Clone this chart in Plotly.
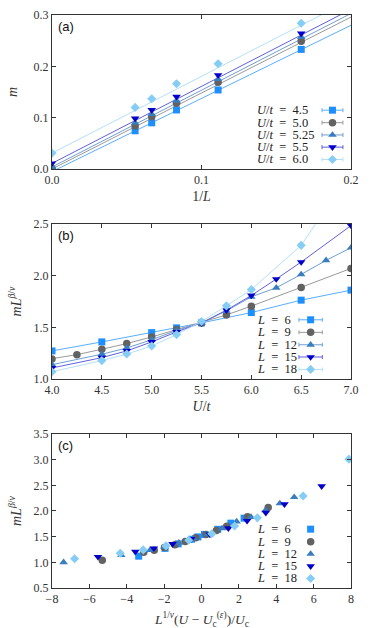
import plotly.graph_objects as go

# ---------------- data ----------------
# (a) magnetization vs 1/L, first point is the 1/L -> 0 extrapolation
inv_L = [0.0, 0.0556, 0.0667, 0.0833, 0.1111, 0.1667]
m_u45 = [-0.004, 0.0745, 0.090, 0.115, 0.154, 0.233]
m_u50 = [0.001, 0.084, 0.102, 0.128, 0.169, 0.249]
m_u525 = [0.004, 0.090, 0.107, 0.133, 0.175, 0.257]
m_u55 = [0.011, 0.0985, 0.115, 0.141, 0.183, 0.264]
m_u60 = [0.031, 0.120, 0.137, 0.166, 0.205, 0.284]

# fit lines, evaluated at the ends of the axis
fit_x = [0.0, 0.2]
fit_u45 = [-0.005, 0.280]
fit_u50 = [0.0, 0.296]
fit_u525 = [0.004, 0.303]
fit_u55 = [0.011, 0.311]
fit_u60 = [0.031, 0.330]

# (b) m L^{beta/nu} vs U/t
U_L6 = [3.0, 4.0, 4.5, 5.0, 5.25, 5.5, 6.0, 6.5, 7.0]
y_L6 = [1.12, 1.272, 1.359, 1.449, 1.495, 1.543, 1.643, 1.763, 1.86]
U_L9 = [3.0, 4.0, 4.25, 4.5, 4.75, 5.0, 5.25, 5.5, 5.75, 6.0, 6.5, 7.0]
y_L9 = [1.04, 1.194, 1.236, 1.288, 1.343, 1.407, 1.478, 1.543, 1.62, 1.705, 1.886, 2.07]
U_L12 = [3.0, 4.0, 4.5, 4.75, 5.0, 5.25, 5.5, 5.75, 6.0, 6.25, 6.5, 6.75, 7.0]
y_L12 = [1.00, 1.139, 1.24, 1.30, 1.38, 1.47, 1.543, 1.66, 1.795, 1.883, 2.012, 2.148, 2.27]
U_L15 = [4.0, 4.5, 4.75, 5.0, 5.25, 5.5, 5.75, 6.0, 6.25, 6.5, 7.0]
y_L15 = [1.107, 1.207, 1.272, 1.359, 1.456, 1.543, 1.666, 1.808, 1.967, 2.132, 2.484]
U_L18 = [4.0, 4.5, 4.75, 5.0, 5.25, 5.5, 5.75, 6.0, 6.5, 7.0]
y_L18 = [1.071, 1.178, 1.242, 1.32, 1.43, 1.556, 1.708, 1.866, 2.293, 3.01]

# (c) data collapse, scaling variable
s_L6 = [-3.36, -1.95, -1.25, -0.54, -0.19, 0.16, 0.87, 1.57, 2.28]
s_L9 = [-5.31, -3.09, -2.53, -1.98, -1.42, -0.87, -0.31, 0.24, 0.80, 1.35, 2.46, 3.57]
s_L12 = [-7.38, -4.29, -2.75, -1.98, -1.21, -0.44, 0.33, 1.10, 1.88, 2.65, 3.42, 4.19, 4.96]
s_L15 = [-5.54, -3.54, -2.55, -1.55, -0.55, 0.45, 1.44, 2.44, 3.44, 4.44, 6.43]
s_L18 = [-6.79, -4.35, -3.12, -1.90, -0.68, 0.55, 1.77, 2.99, 5.44, 7.89]

u_labels = ['4.5', '5.0', '5.25', '5.5', '6.0']
l_labels = ['6', '9', '12', '15', '18']

# ---------------- styles ----------------
symbols = ['square', 'circle', 'triangle-up', 'triangle-down', 'diamond']
sizes = [7, 7.5, 7.5, 7.5, 7]
mcolors = ['#1e8fff', '#626262', '#3a7dbf', '#0000c8', '#86cdf5']
lcolors = ['#5aaeff', '#9a9a9a', '#6f9fd2', '#6060e0', '#b4e0f8']

SERIF = '"Liberation Serif", "DejaVu Serif", serif'
TXT = '#333333'
leg_rows = [0.382, 0.301, 0.221, 0.142, 0.062]
EQ = '\u2002=\u2002'

fig = go.Figure()

# ---- panel (a)
a_data = [m_u45, m_u50, m_u525, m_u55, m_u60]
a_fits = [fit_u45, fit_u50, fit_u525, fit_u55, fit_u60]
for i in range(5):
    fig.add_trace(go.Scatter(x=fit_x, y=a_fits[i], mode='lines',
                             line=dict(color=lcolors[i], width=1),
                             xaxis='x', yaxis='y', hoverinfo='skip'))
for i in range(5):
    fig.add_trace(go.Scatter(x=inv_L, y=a_data[i], mode='markers',
                             marker=dict(symbol=symbols[i], size=sizes[i], color=mcolors[i]),
                             xaxis='x', yaxis='y', name='U/t = ' + u_labels[i]))

# ---- panel (b)
b_x = [U_L6, U_L9, U_L12, U_L15, U_L18]
b_y = [y_L6, y_L9, y_L12, y_L15, y_L18]
for i in range(5):
    fig.add_trace(go.Scatter(x=b_x[i], y=b_y[i], mode='lines+markers',
                             line=dict(color=lcolors[i], width=1),
                             marker=dict(symbol=symbols[i], size=sizes[i], color=mcolors[i]),
                             xaxis='x2', yaxis='y2', name='L = ' + l_labels[i]))

# ---- panel (c)
c_x = [s_L6, s_L9, s_L12, s_L15, s_L18]
for i in range(5):
    fig.add_trace(go.Scatter(x=c_x[i], y=b_y[i], mode='markers',
                             marker=dict(symbol=symbols[i], size=sizes[i], color=mcolors[i]),
                             xaxis='x3', yaxis='y3', name='L = ' + l_labels[i]))

# ---- hand made legends (gnuplot style: text left, sample right)
leg_axes = [('x4', 'y4', 0.938, 0.035), ('x5', 'y5', 0.865, 0.039), ('x6', 'y6', 0.865, None)]
for xa, ya, xs, err in leg_axes:
    for i in range(5):
        ex = None
        if err is not None:
            ex = dict(type='constant', value=err, thickness=1, width=2, color=lcolors[i])
        fig.add_trace(go.Scatter(x=[xs], y=[leg_rows[i]], mode='markers',
                                 marker=dict(symbol=symbols[i], size=sizes[i], color=mcolors[i]),
                                 error_x=ex, xaxis=xa, yaxis=ya, hoverinfo='skip'))

annots = []
for ref, labels, fmt in [('', u_labels, '<i>U</i>/<i>t</i>' + EQ),
                         ('2', l_labels, '<i>L</i>' + EQ),
                         ('3', l_labels, '<i>L</i>' + EQ)]:
    for i in range(5):
        annots.append(dict(text=fmt + labels[i], x=0.679, y=leg_rows[i],
                           xref='x%s domain' % ref, yref='y%s domain' % ref,
                           xanchor='left', yanchor='middle', showarrow=False,
                           font=dict(family=SERIF, size=12.5, color='#222')))
for ref, lab in [('', '(a)'), ('2', '(b)'), ('3', '(c)')]:
    annots.append(dict(text=lab, x=0.012, y=0.985, xref='x%s domain' % ref,
                       yref='y%s domain' % ref, xanchor='left', yanchor='top',
                       showarrow=False, font=dict(family='"Liberation Sans", Arial, sans-serif', size=13, color='#111')))
# x title of (c) as annotation so it sits where the reference has it
annots.append(dict(text='<i>L</i><sup>1/<i>ν</i></sup>(<i>U</i> − <i>U</i><sub>c</sub><sup>(<i>ε</i>)</sup>)/<i>U</i><sub>c</sub>',
                   x=0.5, y=-0.205, xref='x3 domain', yref='y3 domain',
                   xanchor='center', yanchor='middle', showarrow=False,
                   font=dict(family=SERIF, size=13.5, color=TXT)))


def ax(rng, dtick, fmt, dom=None, anchor=None, title=None, standoff=4):
    d = dict(range=rng, dtick=dtick, tickformat=fmt, ticks='inside', ticklen=4,
             tickcolor='#333', showline=True, linecolor='#333', linewidth=1,
             mirror='allticks', showgrid=False, zeroline=False, automargin=False,
             tickfont=dict(family=SERIF, size=12, color=TXT))
    if dom is not None:
        d['domain'] = dom
    if anchor is not None:
        d['anchor'] = anchor
    if title is not None:
        d['title'] = dict(text=title, standoff=standoff,
                          font=dict(family=SERIF, size=14, color=TXT))
    return d


mL = '<i>mL</i><sup><i>β</i>/<i>ν</i></sup>'
hidden = dict(range=[0, 1], visible=False)

fig.update_layout(
    width=374, height=628,
    margin=dict(l=52, r=23, t=15, b=40, autoexpand=False),
    plot_bgcolor='white', paper_bgcolor='white',
    showlegend=False,
    xaxis=ax([0, 0.2], 0.1, '.1f', anchor='y', title='1/<i>L</i>'),
    yaxis=ax([0, 0.3], 0.1, '.1f', dom=[0.7312, 1.0], anchor='x', title='<i>m</i>', standoff=12),
    xaxis2=ax([4, 7], 0.5, '.1f', anchor='y2', title='<i>U</i>/<i>t</i>'),
    yaxis2=ax([1, 2.5], 0.5, '.1f', dom=[0.3647, 0.6353], anchor='x2', title=mL, standoff=8),
    xaxis3=ax([-8, 8], 2, 'd', anchor='y3'),
    yaxis3=ax([0.5, 3.5], 0.5, '.1f', dom=[0.0, 0.2688], anchor='x3', title=mL, standoff=8),
    xaxis4=dict(hidden, overlaying='x'), yaxis4=dict(hidden, overlaying='y'),
    xaxis5=dict(hidden, overlaying='x2'), yaxis5=dict(hidden, overlaying='y2'),
    xaxis6=dict(hidden, overlaying='x3'), yaxis6=dict(hidden, overlaying='y3'),
    annotations=annots,
)

# the page body has a default 8px margin which shifts the figure out of the window
fig.write_html('out.html', config={'displayModeBar': False},
               post_script="document.body.style.margin='0px';")
